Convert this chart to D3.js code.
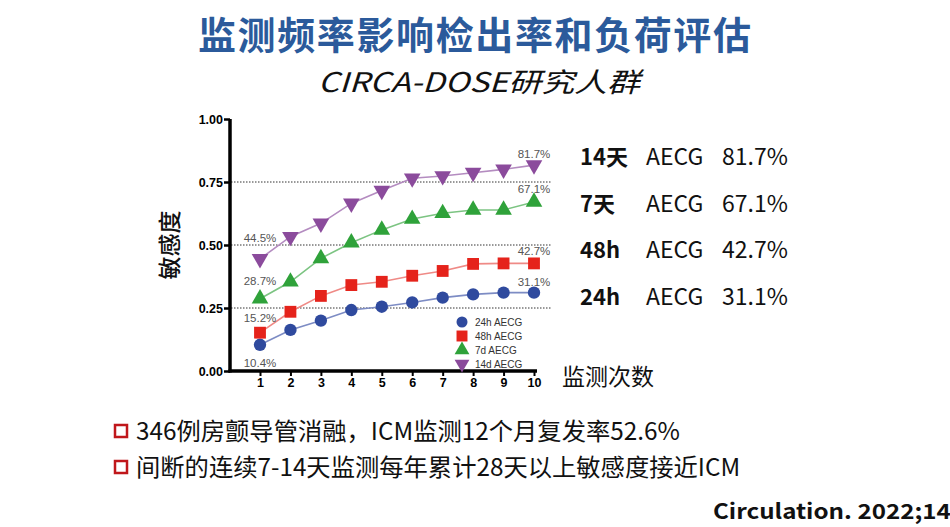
<!DOCTYPE html>
<html>
<head>
<meta charset="utf-8">
<script src="https://cdn.jsdelivr.net/npm/d3@7"></script>
<style>
  body { margin: 0; background: #fff; overflow: hidden; }
  svg { display: block; }
</style>
</head>
<body>
<div id="vizcontainer"></div>
<script>
const
  width = 950,
  height = 527
  ;

// data
const visits = [1, 2, 3, 4, 5, 6, 7, 8, 9, 10];
const seriesNames = ['24h AECG', '48h AECG', '7d AECG', '14d AECG'];
const sens24h = [0.104, 0.163, 0.200, 0.242, 0.255, 0.272, 0.291, 0.304, 0.311, 0.311];
const sens48h = [0.152, 0.235, 0.298, 0.341, 0.354, 0.378, 0.397, 0.425, 0.427, 0.427];
const sens7d  = [0.287, 0.354, 0.447, 0.509, 0.560, 0.603, 0.626, 0.639, 0.639, 0.671];
const sens14d = [0.445, 0.533, 0.586, 0.665, 0.716, 0.765, 0.774, 0.787, 0.800, 0.817];
const yTicks = [0, 0.25, 0.5, 0.75, 1];
const gridLines = [0.25, 0.5, 0.75];
const sideRows = [['14天', 'AECG', '81.7%'], ['7天', 'AECG', '67.1%'], ['48h', 'AECG', '42.7%'], ['24h', 'AECG', '31.1%']];
const bullets = ['346例房颤导管消融，ICM监测12个月复发率52.6%', '间断的连续7-14天监测每年累计28天以上敏感度接近ICM'];

const seriesData = [sens24h, sens48h, sens7d, sens14d];
const markColor = ['#2f4a9e', '#e5231b', '#2fa23a', '#8b4b9c'];
const lineColor = ['#7d8cc4', '#ef8a86', '#7cc482', '#b48cc0'];
const symbols = [d3.symbolCircle, d3.symbolSquare, d3.symbolTriangle, d3.symbolTriangle];

const cjk = '"Noto Sans CJK SC", "Noto Sans", sans-serif';
const arial = 'Arial, "Liberation Sans", sans-serif';

let viz = d3.select('#vizcontainer')
  .append('svg')
  .attr('width', width)
  .attr('height', height)
  .style('font-family', cjk);

// titles
viz.append('text')
  .attr('x', 198).attr('y', 49)
  .attr('font-size', 38).attr('font-weight', 'bold')
  .attr('fill', '#2b5a9b')
  .attr('textLength', 553).attr('lengthAdjust', 'spacing')
  .text('监测频率影响检出率和负荷评估');

viz.append('text')
  .attr('x', 318).attr('y', 92)
  .attr('font-size', 27).attr('font-style', 'italic')
  .attr('fill', '#111')
  .attr('textLength', 322).attr('lengthAdjust', 'spacingAndGlyphs')
  .text('CIRCA-DOSE研究人群');

// chart
let xScale = d3.scaleLinear().domain([1, 10]).range([260, 534]);
let yScale = d3.scaleLinear().domain([0, 1]).range([371, 119]);

let chart = viz.append('g');

chart.selectAll('line.grid')
  .data(gridLines)
  .join('line')
  .attr('class', 'grid')
  .attr('x1', 231).attr('x2', 551)
  .attr('y1', d => yScale(d)).attr('y2', d => yScale(d))
  .attr('stroke', '#333')
  .attr('stroke-width', 1)
  .attr('stroke-dasharray', '1.5,1.5');

let yAxis = chart.append('g')
  .attr('transform', 'translate(230,0)')
  .call(d3.axisLeft(yScale).tickValues(yTicks).tickFormat(d3.format('.2f')).tickSize(6));
yAxis.select('.domain').attr('stroke-width', 3.5).attr('d', 'M0,' + yScale(1) + 'V' + (yScale(0) + 1.5));
yAxis.selectAll('.tick line').attr('stroke-width', 2.5);
yAxis.selectAll('.tick text')
  .attr('font-size', 12.5).attr('font-weight', 'bold')
  .attr('font-family', arial)
  .attr('x', -7);

let xAxis = chart.append('g')
  .attr('transform', 'translate(0,371)')
  .call(d3.axisBottom(xScale).tickValues(visits).tickSize(5));
xAxis.select('.domain').attr('stroke-width', 3.5).attr('d', 'M228.5,0H537');
xAxis.selectAll('.tick line').attr('stroke-width', 2);
xAxis.selectAll('.tick text')
  .attr('font-size', 12.5).attr('font-weight', 'bold')
  .attr('font-family', arial)
  .attr('y', 7);

let line = d3.line()
  .x((d, i) => xScale(visits[i]))
  .y(d => yScale(d));

seriesData.forEach((vals, s) => {
  chart.append('path')
    .datum(vals)
    .attr('d', line)
    .attr('fill', 'none')
    .attr('stroke', lineColor[s])
    .attr('stroke-width', 1.6);

  chart.selectAll('path.mk' + s)
    .data(vals)
    .join('path')
    .attr('class', 'mk' + s)
    .attr('transform', (d, i) => 'translate(' + xScale(visits[i]) + ',' + yScale(d) + ')' + (s === 3 ? ' rotate(180)' : ''))
    .attr('d', d3.symbol().type(symbols[s]).size(s === 1 ? 140 : 120))
    .attr('fill', markColor[s]);
});

// value labels at start and end of each series
const startLabelY = [362, 317, 280, 237];
const endLabelY = [281, 250, 188, 153];
seriesData.forEach((vals, s) => {
  chart.append('text')
    .attr('x', xScale(1)).attr('y', startLabelY[s] + 4.5)
    .attr('text-anchor', 'middle')
    .attr('font-size', 11.5)
    .attr('font-family', arial)
    .attr('fill', '#555')
    .text(d3.format('.1%')(vals[0]));
  chart.append('text')
    .attr('x', xScale(10)).attr('y', endLabelY[s] + 4.5)
    .attr('text-anchor', 'middle')
    .attr('font-size', 11.5)
    .attr('font-family', arial)
    .attr('fill', '#555')
    .text(d3.format('.1%')(vals[vals.length - 1]));
});

// legend
let legend = chart.append('g');
seriesNames.forEach((name, s) => {
  let ly = 322 + s * 14;
  legend.append('path')
    .attr('transform', 'translate(462,' + ly + ')' + (s === 3 ? ' rotate(180)' : ''))
    .attr('d', d3.symbol().type(symbols[s]).size(s === 1 ? 120 : 95))
    .attr('fill', markColor[s]);
  legend.append('text')
    .attr('x', 475).attr('y', ly + 3.5)
    .attr('font-size', 10)
    .attr('font-family', arial)
    .attr('fill', '#333')
    .text(name);
});

// axis titles
viz.append('text')
  .attr('transform', 'translate(178,245) rotate(-90)')
  .attr('text-anchor', 'middle')
  .attr('font-size', 23)
  .attr('font-weight', 500)
  .attr('fill', '#111')
  .text('敏感度');

viz.append('text')
  .attr('x', 562).attr('y', 385)
  .attr('font-size', 23)
  .attr('fill', '#111')
  .text('监测次数');

// right-hand summary
let side = viz.append('g');
sideRows.forEach((r, i) => {
  let ry = 165 + i * 46.5;
  side.append('text').attr('x', 580).attr('y', ry)
    .attr('font-size', 22).attr('font-weight', 'bold').attr('fill', '#111').text(r[0]);
  side.append('text').attr('x', 646).attr('y', ry)
    .attr('font-size', 23).attr('fill', '#111').text(r[1]);
  side.append('text').attr('x', 722).attr('y', ry)
    .attr('font-size', 23).attr('fill', '#111').text(r[2]);
});

// bullets
bullets.forEach((b, i) => {
  let by = 431 + i * 36;
  viz.append('rect')
    .attr('x', 115).attr('y', by - 6)
    .attr('width', 12).attr('height', 12)
    .attr('fill', 'none')
    .attr('stroke', '#c0171b')
    .attr('stroke-width', 2.5);
  viz.append('text')
    .attr('x', 136).attr('y', by + 8.5)
    .attr('font-size', 24.3)
    .attr('fill', '#111')
    .text(b);
});

viz.append('text')
  .attr('x', 713).attr('y', 519)
  .attr('font-size', 21).attr('font-weight', 'bold')
  .attr('fill', '#111')
  .attr('textLength', 252).attr('lengthAdjust', 'spacingAndGlyphs')
  .text('Circulation. 2022;145');
</script>
</body>
</html>
